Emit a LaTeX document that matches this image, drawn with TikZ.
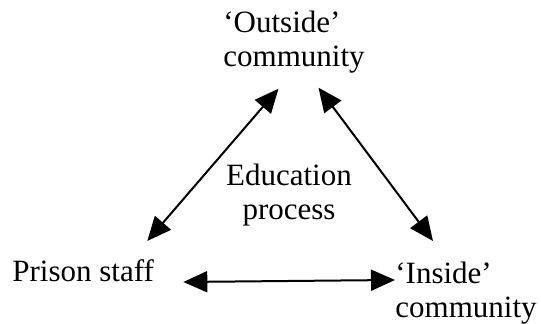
\documentclass[tikz,border=0pt]{standalone}
\usepackage{fontspec}
\setmainfont{Liberation Serif}
\usepackage{tikz}
\usetikzlibrary{positioning, calc, arrows.meta}
\tikzstyle{Arrow} = [
line width=1pt,
{Triangle[length=12pt, width=10.5pt]}-{Triangle[length=12pt, width=10.5pt]}]
\tikzstyle{Label} = [inner sep=0mm, font=\fontsize{15.5}{17}\selectfont]

\begin{document}
\begin{tikzpicture}[x=0.5pt, y=0.5pt]
    \useasboundingbox (0,0) rectangle (541,324);
    \node [Label, align=left, anchor=north west](1) at (223,313.5){`Outside'\\community};
    \node [Label, align=center, anchor=north](2) at (289,160.2){Education\\process};
    \node [Label, anchor=base west](3) at (12,42){Prison staff};
    \node [Label, align=left, anchor=north west](4) at (395,62.2){`Inside'\\community};

    \draw [Arrow] ([xshift=-3.5pt, yshift=9.4pt]3.north east) to ([xshift=-7.75pt, yshift=-7.6pt]1.south);
    \draw [Arrow] ([xshift=12.25pt, yshift=-7.1pt]1.south) to ([xshift=19pt, yshift=10.4pt]4.north west);
    \draw [Arrow] ([xshift=14.5pt]3.base east) to ([yshift=-9.1pt]4.north west);
\end{tikzpicture}
\end{document}
